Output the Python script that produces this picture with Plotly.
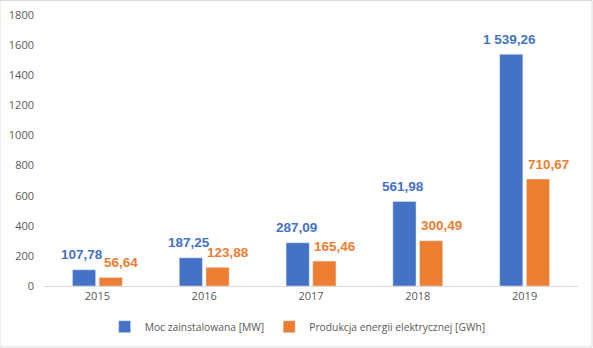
import plotly.graph_objects as go

years = ["2015", "2016", "2017", "2018", "2019"]
moc_mw = [107.78, 187.25, 287.09, 561.98, 1539.26]
produkcja_gwh = [56.64, 123.88, 165.46, 300.49, 710.67]
y_ticks = [0, 200, 400, 600, 800, 1000, 1200, 1400, 1600, 1800]

BLUE = "#4472C4"
ORANGE = "#ED7D31"
GREY = "#595959"


def pl_number(v):
    # Polish formatting: space as thousands separator, comma as decimal mark
    s = f"{v:,.2f}"
    return s.replace(",", " ").replace(".", ",")


fig = go.Figure()
fig.add_trace(go.Bar(x=years, y=moc_mw, name="Moc zainstalowana [MW]",
                     marker_color=BLUE, offsetgroup="a"))
fig.add_trace(go.Bar(x=years, y=produkcja_gwh, name="Produkcja energii elektrycznej [GWh]",
                     marker_color=ORANGE, offsetgroup="b"))

# value labels above each bar (orange ones nudged to the right)
annotations = []
for series, color, shift, xpx in ((moc_mw, BLUE, -0.14, 0), (produkcja_gwh, ORANGE, 0.14, 9)):
    for i, v in enumerate(series):
        annotations.append(dict(
            x=i + shift, y=v, xref="x", yref="y", text=pl_number(v),
            showarrow=False, yanchor="middle", yshift=15, xshift=xpx,
            font=dict(family="Liberation Sans Narrow, Liberation Sans, Arial, sans-serif",
                      size=13.5, color=color, weight="bold"),
        ))

fig.update_layout(
    width=593, height=348,
    margin=dict(l=44, r=15, t=15, b=62, autoexpand=False),
    paper_bgcolor="white", plot_bgcolor="white",
    barmode="group", bargap=0.5, bargroupgap=0.13,
    showlegend=True,
    legend=dict(orientation="h", x=0.475, xanchor="center", y=-0.15, yanchor="middle",
                font=dict(family="Open Sans, sans-serif", size=10.3, color=GREY),
                itemwidth=30, traceorder="normal"),
    annotations=annotations,
    xaxis=dict(showgrid=False, showline=True, linecolor="#D9D9D9", linewidth=1,
               ticks="", tickfont=dict(family="Open Sans, sans-serif", size=11, color=GREY)),
    yaxis=dict(range=[0, 1800], tickvals=y_ticks, showgrid=False, zeroline=False,
               showline=False, ticks="", ticklabelstandoff=9,
               tickfont=dict(family="Open Sans, sans-serif", size=11, color=GREY)),
    shapes=[dict(type="rect", xref="paper", yref="paper",
                 x0=-44 / 534, x1=1 + 14 / 534, y0=-61 / 271, y1=1 + 14.5 / 271,
                 line=dict(color="#D9D9D9", width=1), layer="below")],
)

fig.write_html("out.html")
